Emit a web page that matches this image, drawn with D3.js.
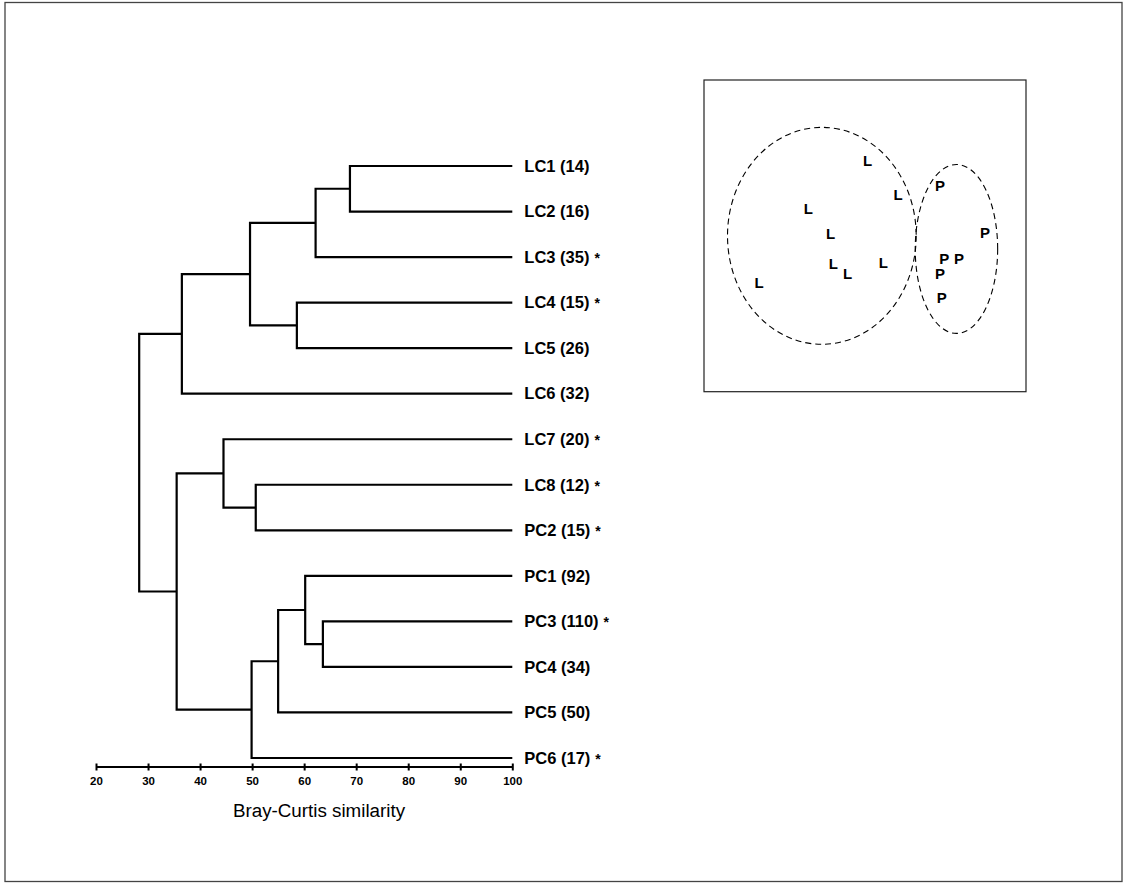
<!DOCTYPE html>
<html>
<head>
<meta charset="utf-8">
<script src="https://cdn.jsdelivr.net/npm/d3@7"></script>
<style>
  html, body { margin: 0; padding: 0; background: #fff; }
  svg { display: block; }
  text { font-family: "Liberation Sans", Arial, sans-serif; }
</style>
</head>
<body>
<svg id="chart" width="1129" height="884"></svg>
<script>
// ---- Dendrogram data ----
const leaves = ["LC1","LC2","LC3","LC4","LC5","LC6","LC7","LC8","PC2","PC1","PC3","PC4","PC5","PC6"];
const leafCounts = [14,16,35,15,26,32,20,12,15,92,110,34,50,17];
const leafStar = [false,false,true,true,false,false,true,true,true,false,true,false,false,true];
// linkage: [childA, childB, similarity] ; new nodes named N1..N13
const merges = [
  ["LC1","LC2",68.8],
  ["N1","LC3",62.2],
  ["LC4","LC5",58.6],
  ["N2","N3",49.6],
  ["N4","LC6",36.5],
  ["LC8","PC2",50.7],
  ["LC7","N6",44.5],
  ["PC3","PC4",63.6],
  ["PC1","N8",60.2],
  ["N9","PC5",55.0],
  ["N10","PC6",49.9],
  ["N7","N11",35.5],
  ["N5","N12",28.3]
];
const axisTicks = [20,30,40,50,60,70,80,90,100];
const axisTitle = "Bray-Curtis similarity";

// ---- MDS ordination data ----
const mdsL = [[50.8,74.0],[60.3,63.1],[32.4,58.6],[39.3,50.6],[40.2,41.2],[44.6,38.0],[55.7,41.5],[17.1,35.1]];
const mdsP = [[73.3,66.1],[87.3,51.0],[74.6,42.8],[79.2,42.8],[73.3,37.8],[73.8,30.2]];
// groups: [cx, cy, rx, ry]
const mdsGroups = [[36.6,50.0,29.3,34.8],[78.4,45.8,12.8,27.1]];

const svg = d3.select("#chart");

// outer frame
svg.append("rect").attr("x",5).attr("y",2.5).attr("width",1117).attr("height",879)
  .attr("fill","none").attr("stroke","#444").attr("stroke-width",1.3);

// ---- Dendrogram ----
const x = d3.scaleLinear().domain([20,100]).range([96,512.3]);
const y = d3.scalePoint().domain(leaves).range([166,758]);

const nodes = {};
leaves.forEach(l => nodes[l] = {name:l, sim:100, y:y(l)});
merges.forEach((m,i) => {
  const a = nodes[m[0]], b = nodes[m[1]];
  nodes["N"+(i+1)] = {name:"N"+(i+1), sim:m[2], y:(a.y+b.y)/2, children:[a,b]};
});

const g = svg.append("g");
merges.forEach((m,i) => {
  const n = nodes["N"+(i+1)];
  const [a,b] = n.children;
  const p = d3.path();
  p.moveTo(x(a.sim), a.y); p.lineTo(x(n.sim), a.y);
  p.lineTo(x(n.sim), b.y); p.lineTo(x(b.sim), b.y);
  g.append("path").attr("d", p.toString()).attr("fill","none")
    .attr("stroke","#000").attr("stroke-width",2.2).attr("stroke-linejoin","miter");
});

// leaf labels
leaves.forEach((l,i) => {
  const t = g.append("text").attr("x", x(100)+12).attr("y", y(l)).attr("dy","0.35em")
    .attr("font-size",16.5).attr("font-weight","bold").attr("fill","#000");
  t.append("tspan").text(l + " (" + leafCounts[i] + ")");
  if (leafStar[i]) t.append("tspan").attr("dx",5).attr("font-size",14).text("*");
});

// axis
const axisY = 767;
const ax = svg.append("g").attr("transform",`translate(0,${axisY})`)
  .call(d3.axisBottom(x).tickValues(axisTicks).tickSize(3).tickFormat(d3.format("d")));
ax.select(".domain").attr("stroke","#000").attr("stroke-width",2).attr("d",`M${x(20)},0H${x(100)}`);
ax.selectAll(".tick line").attr("y1",-3.5).attr("y2",3.5).attr("stroke","#000").attr("stroke-width",2);
ax.selectAll(".tick text").attr("y",10).attr("font-size",11.5).attr("font-weight","bold")
  .attr("fill","#000").attr("font-family","Liberation Sans, Arial, sans-serif");
svg.append("text").attr("x",319).attr("y",817).attr("text-anchor","middle")
  .attr("font-size",18.8).attr("fill","#000").text(axisTitle);

// ---- MDS panel ----
const mx = d3.scaleLinear().domain([0,100]).range([704,1026]);
const my = d3.scaleLinear().domain([0,100]).range([391.7,80]);
const mg = svg.append("g");
mg.append("rect").attr("x",mx(0)).attr("y",my(100)).attr("width",mx(100)-mx(0)).attr("height",my(0)-my(100))
  .attr("fill","none").attr("stroke","#222").attr("stroke-width",1.2);
mg.selectAll("ellipse").data(mdsGroups).join("ellipse")
  .attr("cx",d=>mx(d[0])).attr("cy",d=>my(d[1]))
  .attr("rx",d=>mx(d[2])-mx(0)).attr("ry",d=>my(0)-my(d[3]))
  .attr("fill","none").attr("stroke","#000").attr("stroke-width",1.1).attr("stroke-dasharray","6,4");
const pts = mdsL.map(d=>({v:d,lab:"L"})).concat(mdsP.map(d=>({v:d,lab:"P"})));
mg.selectAll("text.pt").data(pts).join("text").attr("class","pt")
  .attr("x",d=>mx(d.v[0])).attr("y",d=>my(d.v[1])).attr("dy","0.36em")
  .attr("text-anchor","middle").attr("font-size",15).attr("font-weight","bold").attr("fill","#000")
  .text(d=>d.lab);
</script>
</body>
</html>
